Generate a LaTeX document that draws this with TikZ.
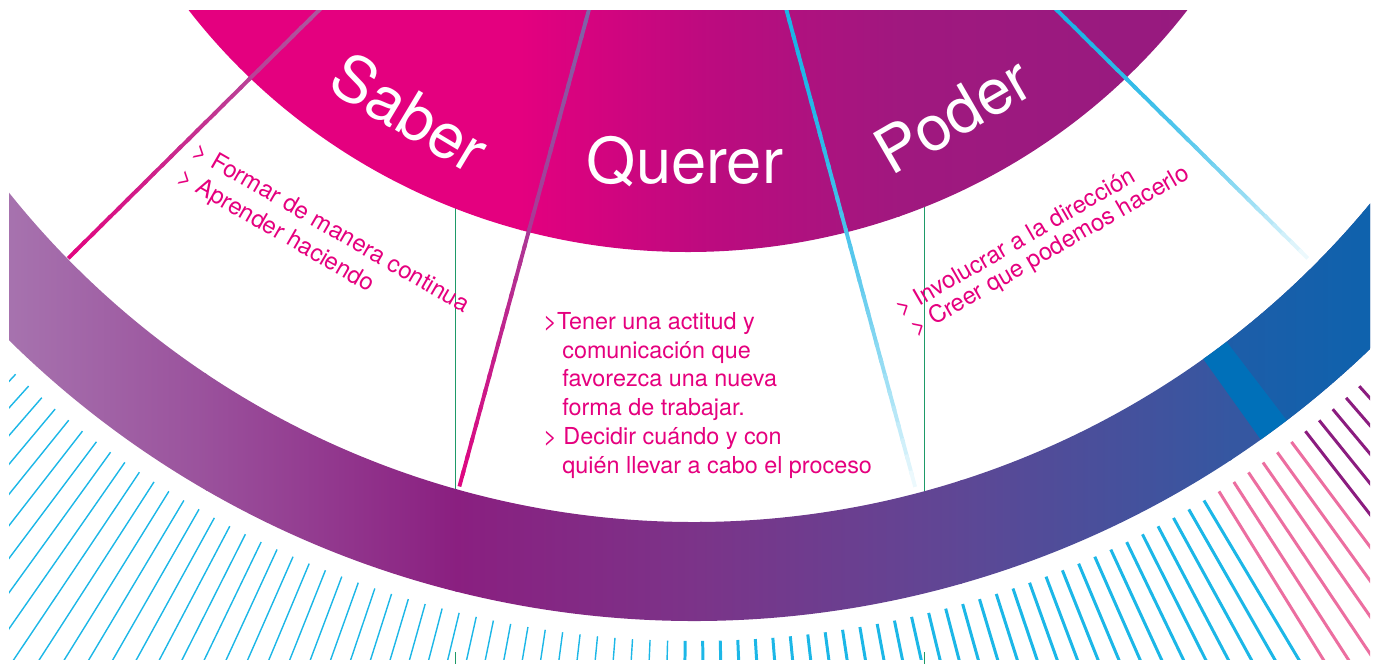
\documentclass[tikz,border=0pt]{standalone}
\usepackage{fontspec}
\setmainfont{TeX Gyre Heros}
\usepackage{xcolor}

\definecolor{diskpink}{HTML}{E4007F}
\definecolor{diskmid}{HTML}{BE0A7F}
\definecolor{diskplum}{HTML}{A0187F}
\definecolor{diskend}{HTML}{921C7F}
\definecolor{textpink}{HTML}{E5007E}
\definecolor{ringlilac}{HTML}{A774AF}
\definecolor{ringplum}{HTML}{9A519C}
\definecolor{ringpurple}{HTML}{8A1F80}
\definecolor{ringviolet}{HTML}{7B3489}
\definecolor{ringindigo}{HTML}{5E4795}
\definecolor{ringblue}{HTML}{3557A1}
\definecolor{ringdeep}{HTML}{1F5DA8}
\definecolor{ringend}{HTML}{0066B1}
\definecolor{ringstripe}{HTML}{0070B9}
\definecolor{hatchcyan}{HTML}{1CB7E7}
\definecolor{hatchpink}{HTML}{EC6EA0}
\definecolor{hatchpurple}{HTML}{8B1C7F}
\definecolor{guidegreen}{HTML}{1E9A68}
\definecolor{spokemauve}{HTML}{A85CA0}
\definecolor{spokelilac}{HTML}{7C66A8}
\definecolor{spokecyan}{HTML}{1BB4E6}

\tikzset{
  seclabel/.style={text=white, inner sep=0pt, font=\fontsize{36}{40}\selectfont},
  pinkitem/.style={text=textpink, inner sep=0pt, anchor=base west, font=\fontsize{13.6}{16}\selectfont},
  miditem/.style={text=textpink, inner sep=0pt, anchor=base west, font=\fontsize{13.3}{16}\selectfont},
  guide/.style={draw=guidegreen, line width=0.6pt},
}

\begin{document}
\begin{tikzpicture}[x=0.02cm, y=-0.02cm]
  \useasboundingbox (0,0) rectangle (1384,664);
  % centres of the disk and of the ring (above the page)
  \coordinate (hub) at (688,-355);
  \coordinate (ringhub) at (694,-355);

  % green guide lines (hidden by the ring, ticks at the foot)
  \draw[guide] (455.7,200) -- (455.7,540);
  \draw[guide] (924.3,200) -- (924.3,540);
  \draw[guide] (455.7,652) -- (455.7,664);
  \draw[guide] (924.3,652) -- (924.3,664);

  \begin{scope}
    \clip (9,10) rectangle (1370,659);

    % disk
    \begin{scope}
      \clip (hub) ellipse [x radius=625, y radius=607];
      \fill[diskpink] (0,0) rectangle (522,300);
      \shade[left color=diskpink, right color=diskmid] (520,0) rectangle (700,300);
      \shade[left color=diskmid, right color=diskplum] (698,0) rectangle (900,300);
      \shade[left color=diskplum, right color=diskend] (898,0) rectangle (1330,300);
    \end{scope}

    % ring
    \begin{scope}
      \clip[shift={(ringhub)}] (38:976) arc[start angle=38, end angle=142, radius=976]
        -- (142:877) arc[start angle=142, end angle=38, radius=877] -- cycle;
      \shade[left color=ringlilac, right color=ringplum] (0,150) rectangle (207,664);
      \shade[left color=ringplum, right color=ringpurple] (205,150) rectangle (457,664);
      \shade[left color=ringpurple, right color=ringviolet] (455,150) rectangle (702,664);
      \shade[left color=ringviolet, right color=ringindigo] (700,150) rectangle (962,664);
      \shade[left color=ringindigo, right color=ringblue] (960,150) rectangle (1232,664);
      \fill[ringblue] (1230,150) rectangle (1384,664);
      \shade[shift={(ringhub)}, left color=ringdeep, right color=ringend]
        (52.6:860) arc[start angle=52.6, end angle=36, radius=860]
        -- (36:1000) arc[start angle=36, end angle=52.6, radius=1000] -- cycle;
      \fill[shift={(ringhub)}, ringstripe]
        (54.5:860) arc[start angle=54.5, end angle=52.6, radius=860]
        -- (52.6:1000) arc[start angle=52.6, end angle=54.5, radius=1000] -- cycle;
    \end{scope}

    % hatching round the ring
    \begin{scope}[shift={(ringhub)}]
      \foreach \k in {-43,...,42}{
        \pgfmathsetmacro{\ang}{89.5-1.01*\k}
        \ifnum\k<31 \def\hc{hatchcyan}\else\ifnum\k<37 \def\hc{hatchpink}\else\def\hc{hatchpurple}\fi\fi
        \ifnum\k<-1 \def\hw{0.8pt}\else\def\hw{1.7pt}\fi
        \draw[draw=\hc, line width=\hw] (\ang:996) -- (\ang:1400);
      }
    \end{scope}

    % spokes with fading colour
    \begin{scope}[shift={(hub)}]
      \foreach \th/\ca/\cb/\rs/\pw in {-45.3/spokemauve/textpink/505/1, -15.2/spokelilac/textpink/370/1,
                                       15.1/spokecyan/white/370/2, 45.3/spokecyan/white/505/2}{
        \pgfmathsetmacro{\ang}{90-\th}
        \foreach \i in {0,...,29}{
          \pgfmathsetmacro{\ra}{\rs+(872-\rs)*\i/30}
          \pgfmathsetmacro{\rb}{\rs+(872-\rs)*min(\i+1.3,30)/30}
          \pgfmathsetmacro{\mx}{95*((\i+0.5)/30)^\pw}
          \draw[line width=2.2pt, draw=\cb!\mx!\ca] (\ang:\ra) -- (\ang:\rb);
        }
      }
    \end{scope}
  \end{scope}

  % sector titles
  \node[seclabel, rotate=-31] (saber) at (410,112) {Saber};
  \node[seclabel, anchor=base] (querer) at (685,183) {Querer};
  \node[seclabel, rotate=30] (poder) at (953,115) {Poder};

  % items
  \node[pinkitem, rotate=-30] (saber1) at (191,155.6) {> Formar de manera continua};
  \node[pinkitem, rotate=-30] (saber2) at (176.2,181.1) {> Aprender haciendo};
  \node[pinkitem, rotate=30] (poder1) at (901.4,317) {> Involucrar a la dirección};
  \node[pinkitem, rotate=30] (poder2) at (916,336.4) {> Creer que podemos hacerlo};

  \node[miditem] (querer1) at (543,329.3) {>Tener una actitud y};
  \node[miditem] (querer2) at (562,358.1) {comunicación que};
  \node[miditem] (querer3) at (562,386.9) {favorezca una nueva};
  \node[miditem] (querer4) at (562,415.7) {forma de trabajar.};
  \node[miditem] (querer5) at (543,444.5) {> Decidir cuándo y con};
  \node[miditem] (querer6) at (562,473.3) {quién llevar a cabo el proceso};
\end{tikzpicture}
\end{document}
